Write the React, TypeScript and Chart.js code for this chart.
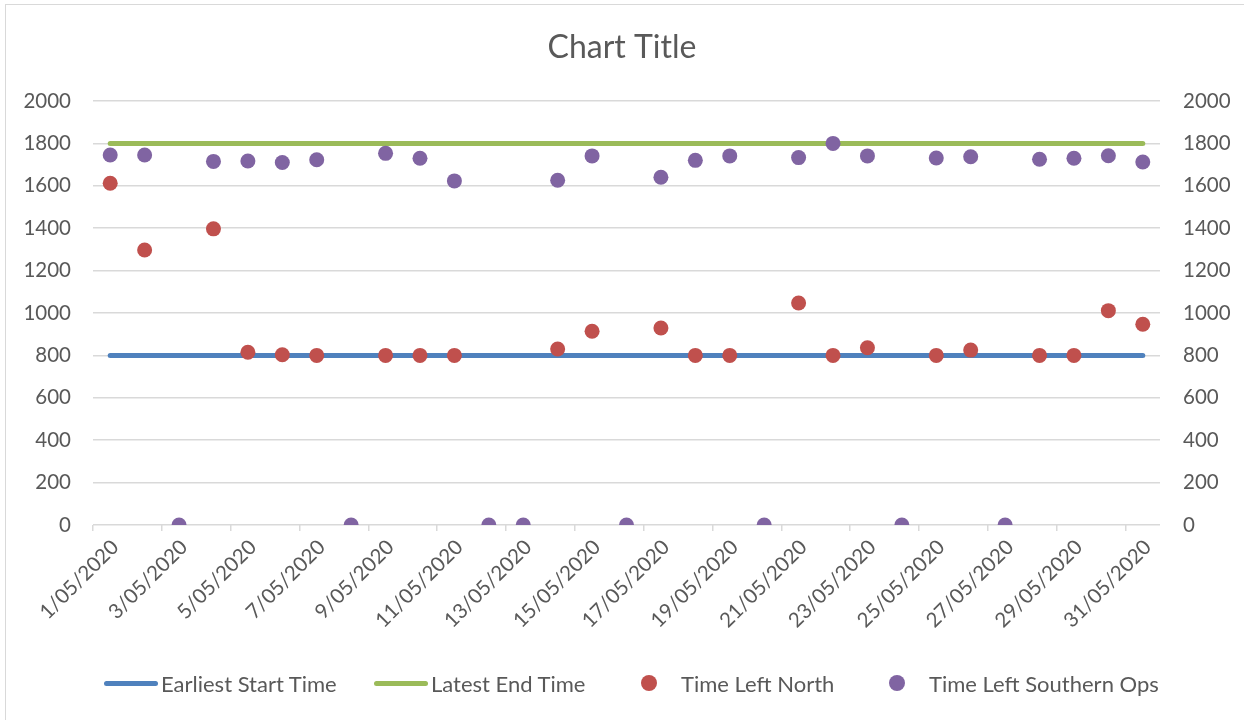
import React, { useEffect, useRef } from "react";
import { Chart, registerables } from "chart.js";

Chart.register(...registerables);

const dateLabels: string[] = [
  "1/05/2020", "2/05/2020", "3/05/2020", "4/05/2020", "5/05/2020", "6/05/2020",
  "7/05/2020", "8/05/2020", "9/05/2020", "10/05/2020", "11/05/2020", "12/05/2020",
  "13/05/2020", "14/05/2020", "15/05/2020", "16/05/2020", "17/05/2020", "18/05/2020",
  "19/05/2020", "20/05/2020", "21/05/2020", "22/05/2020", "23/05/2020", "24/05/2020",
  "25/05/2020", "26/05/2020", "27/05/2020", "28/05/2020", "29/05/2020", "30/05/2020",
  "31/05/2020",
];

const earliestStart: number[] = [
  800, 800, 800, 800, 800, 800, 800, 800, 800, 800, 800, 800, 800, 800, 800, 800,
  800, 800, 800, 800, 800, 800, 800, 800, 800, 800, 800, 800, 800, 800, 800,
];

const latestEnd: number[] = [
  1800, 1800, 1800, 1800, 1800, 1800, 1800, 1800, 1800, 1800, 1800, 1800, 1800, 1800, 1800, 1800,
  1800, 1800, 1800, 1800, 1800, 1800, 1800, 1800, 1800, 1800, 1800, 1800, 1800, 1800, 1800,
];

const timeLeftNorth: (number | null)[] = [
  1612, 1297, null, 1397, 815, 803, 800, null, 800, 800, 800, null, null, 830, 914, null,
  929, 800, 800, null, 1047, 800, 836, null, 800, 825, null, 800, 800, 1011, 947,
];

const timeLeftSouthern: number[] = [
  1745, 1745, 0, 1715, 1717, 1710, 1723, 0, 1753, 1730, 1623, 0, 0, 1626, 1741, 0,
  1640, 1720, 1741, 0, 1733, 1800, 1741, 0, 1731, 1737, 0, 1725, 1730, 1742, 1712,
];

const yTicks: number[] = [0, 200, 400, 600, 800, 1000, 1200, 1400, 1600, 1800, 2000];

const FONT = "Lato, 'Open Sans', sans-serif";
const TEXT = "#595959";
const GRID = "#d9d9d9";

const legendItems = [
  { label: "Earliest Start Time", color: "#4f81bd", kind: "line", x: 104 },
  { label: "Latest End Time", color: "#9bbb59", kind: "line", x: 374 },
  { label: "Time Left North", color: "#c0504d", kind: "dot", x: 641 },
  { label: "Time Left Southern Ops", color: "#8064a2", kind: "dot", x: 889 },
];

export default function App() {
  const ref = useRef<HTMLCanvasElement | null>(null);

  useEffect(() => {
    document.body.style.margin = "0";
    if (!ref.current) return;
    const chart = new Chart(ref.current, {
      type: "line",
      data: {
        labels: dateLabels,
        datasets: [
          {
            label: "Earliest Start Time",
            data: earliestStart,
            borderColor: "#4f81bd",
            backgroundColor: "#4f81bd",
            borderWidth: 5,
            borderCapStyle: "round",
            pointRadius: 0,
            yAxisID: "y",
            order: 3,
          },
          {
            label: "Latest End Time",
            data: latestEnd,
            borderColor: "#9bbb59",
            backgroundColor: "#9bbb59",
            borderWidth: 5,
            borderCapStyle: "round",
            pointRadius: 0,
            yAxisID: "y",
            order: 2,
          },
          {
            label: "Time Left North",
            data: timeLeftNorth,
            showLine: false,
            borderColor: "#c0504d",
            backgroundColor: "#c0504d",
            pointRadius: 7.5,
            pointBorderWidth: 0,
            yAxisID: "y",
            order: 1,
          },
          {
            label: "Time Left Southern Ops",
            data: timeLeftSouthern,
            showLine: false,
            borderColor: "#8064a2",
            backgroundColor: "#8064a2",
            pointRadius: 7.5,
            pointBorderWidth: 0,
            yAxisID: "y",
            order: 0,
          },
        ],
      },
      options: {
        responsive: false,
        animation: false,
        layout: { padding: { left: 0, right: 0, top: 0, bottom: 0 } },
        plugins: {
          legend: { display: false },
          tooltip: { enabled: false },
          title: {
            display: true,
            text: "Chart Title",
            color: TEXT,
            font: { family: FONT, size: 32, weight: "normal", lineHeight: 1.2 },
            padding: { top: 28, bottom: 34.6 },
          },
        },
        scales: {
          x: {
            type: "category",
            offset: true,
            grid: {
              offset: true,
              drawOnChartArea: false,
              drawTicks: true,
              tickLength: 6,
              lineWidth: 1.5,
              color: (ctx: any) => (ctx.index % 2 === 0 ? GRID : "rgba(0,0,0,0)"),
            },
            border: { display: false },
            ticks: {
              autoSkip: false,
              minRotation: 45,
              maxRotation: 45,
              padding: 4,
              labelOffset: 5,
              color: TEXT,
              font: { family: FONT, size: 20.5 },
              callback: (_v: any, i: number) => (i % 2 === 0 ? dateLabels[i] : ""),
            },
            afterFit: (s: any) => {
              s.height = 195;
            },
          },
          y: {
            position: "left",
            min: 0,
            max: 2000,
            afterBuildTicks: (s: any) => {
              s.ticks = yTicks.map((v) => ({ value: v }));
            },
            grid: { color: GRID, lineWidth: 1.5, drawTicks: false },
            border: { display: false },
            ticks: {
              padding: 22,
              color: TEXT,
              font: { family: FONT, size: 20.5 },
              callback: (v: any) => String(v),
            },
            afterFit: (s: any) => {
              s.width = 93;
            },
          },
          y2: {
            position: "right",
            min: 0,
            max: 2000,
            afterBuildTicks: (s: any) => {
              s.ticks = yTicks.map((v) => ({ value: v }));
            },
            grid: { display: false, drawTicks: false },
            border: { display: false },
            ticks: {
              padding: 23,
              color: TEXT,
              font: { family: FONT, size: 20.5 },
              callback: (v: any) => String(v),
            },
            afterFit: (s: any) => {
              s.width = 84;
            },
          },
        },
      },
    });
    return () => chart.destroy();
  }, []);

  return (
    <div
      style={{
        position: "absolute",
        left: 0,
        top: 0,
        width: 1244,
        height: 720,
        overflow: "hidden",
        background: "#fff",
      }}
    >
      <canvas ref={ref} width={1244} height={720} style={{ position: "absolute", left: 0, top: 0 }} />
      <div
        style={{
          position: "absolute",
          left: 5,
          top: 4,
          width: 1260,
          height: 740,
          border: "1px solid #d9d9d9",
          pointerEvents: "none",
        }}
      />
      {legendItems.map((it) => (
        <div
          key={it.label}
          style={{
            position: "absolute",
            left: it.x,
            top: 669,
            height: 28,
            display: "flex",
            alignItems: "center",
            fontFamily: FONT,
            fontSize: 22,
            color: TEXT,
            whiteSpace: "nowrap",
          }}
        >
          {it.kind === "line" ? (
            <span
              style={{
                display: "inline-block",
                width: 54,
                height: 5,
                borderRadius: 3,
                background: it.color,
                marginRight: 3,
              }}
            />
          ) : (
            <span
              style={{
                display: "inline-block",
                width: 16,
                height: 16,
                borderRadius: 8,
                background: it.color,
                marginLeft: 0,
                marginRight: 24,
              }}
            />
          )}
          <span>{it.label}</span>
        </div>
      ))}
    </div>
  );
}
